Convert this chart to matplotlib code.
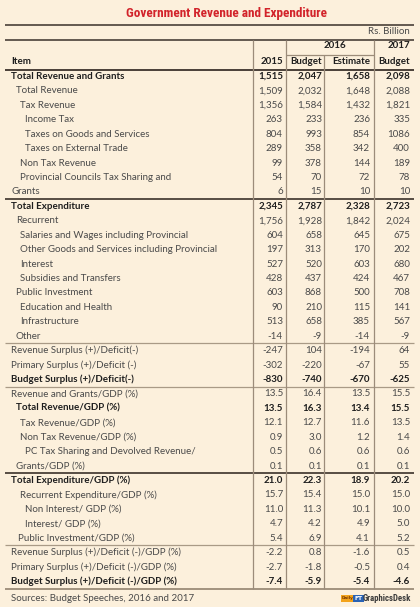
"""
Government Revenue and Expenditure table (Rs. Billion), drawn with matplotlib.
"""

import matplotlib
matplotlib.use("Agg")
import matplotlib.pyplot as plt

# ---- data -------------------------------------------------------------
items = [
    "Total Revenue and Grants", "Total Revenue", "Tax Revenue", "Income Tax",
    "Taxes on Goods and Services", "Taxes on External Trade", "Non Tax Revenue",
    "Provincial Councils Tax Sharing and", "Grants",
    "Total Expenditure", "Recurrent", "Salaries and Wages including Provincial",
    "Other Goods and Services including Provincial", "Interest",
    "Subsidies and Transfers", "Public Investment", "Education and Health",
    "Infrastructure", "Other",
    "Revenue Surplus (+)/Deficit(-)", "Primary Surplus (+)/Deficit (-)",
    "Budget Surplus (+)/Deficit(-)",
    "Revenue and Grants/GDP (%)", "Total Revenue/GDP (%)", "Tax Revenue/GDP (%)",
    "Non Tax Revenue/GDP (%)", "PC Tax Sharing and Devolved Revenue/",
    "Grants/GDP (%)",
    "Total Expenditure/GDP (%)", "Recurrent Expenditure/GDP (%)",
    "Non Interest/ GDP (%)", "Interest/ GDP (%)", "Public Investment/GDP (%)",
    "Revenue Surplus (+)/Deficit (-)/GDP (%)",
    "Primary Surplus (+)/Deficit (-)/GDP (%)",
    "Budget Surplus (+)/Deficit (-)/GDP (%)",
]

indent = [0, 1, 2, 3, 3, 3, 2, 2, 0,
          0, 1, 2, 2, 2, 2, 1, 2, 2, 1,
          0, 0, 0,
          0, 1, 2, 2, 3, 1,
          0, 2, 3, 3, 1.5,
          0, 0, 0]

bold_rows = {0, 9, 21, 23, 28, 35}

y2015 = ["1,515", "1,509", "1,356", "263", "804", "289", "99", "54", "6",
         "2,345", "1,756", "604", "197", "527", "428", "603", "90", "513", "-14",
         "-247", "-302", "-830",
         "13.5", "13.5", "12.1", "0.9", "0.5", "0.1",
         "21.0", "15.7", "11.0", "4.7", "5.4",
         "-2.2", "-2.7", "-7.4"]
y2016_budget = ["2,047", "2,032", "1,584", "233", "993", "358", "378", "70", "15",
                "2,787", "1,928", "658", "313", "520", "437", "868", "210", "658", "-9",
                "104", "-220", "-740",
                "16.4", "16.3", "12.7", "3.0", "0.6", "0.1",
                "22.3", "15.4", "11.3", "4.2", "6.9",
                "0.8", "-1.8", "-5.9"]
y2016_estimate = ["1,658", "1,648", "1,432", "236", "854", "342", "144", "72", "10",
                  "2,328", "1,842", "645", "170", "603", "424", "500", "115", "385", "-14",
                  "-194", "-67", "-670",
                  "13.5", "13.4", "11.6", "1.2", "0.6", "0.1",
                  "18.9", "15.0", "10.1", "4.9", "4.1",
                  "-1.6", "-0.5", "-5.4"]
y2017_budget = ["2,098", "2,088", "1,821", "335", "1086", "400", "189", "78", "10",
                "2,723", "2,024", "675", "202", "680", "467", "708", "141", "567", "-9",
                "64", "55", "-625",
                "15.5", "15.5", "13.5", "1.4", "0.6", "0.1",
                "20.2", "15.0", "10.0", "5.0", "5.2",
                "0.5", "0.4", "-4.6"]

columns = [y2015, y2016_budget, y2016_estimate, y2017_budget]

# ---- layout / style ---------------------------------------------------
BG = "#fcf0dc"
TXT = "#4a4a4a"
TXT_BOLD = "#1e1e1e"
RED = "#d2232a"
DARK_LINE = "#4a4038"
LIGHT_LINE = "#a99a86"
VLINE = "#9c8c7a"
FONT = "Lato"
FS = 7.0
NARROW = ["Liberation Sans Narrow", "Roboto Condensed", "DejaVu Sans"]

col_right = [283, 322, 370, 410]
vlines = [253, 285.5, 374]
row_y0, row_step = 76.5, 14.43
line_x0, line_x1 = 5, 414

# separators after row index: (row, colour, width)
separators = [(8, DARK_LINE, 1.3), (18, LIGHT_LINE, 0.9), (21, LIGHT_LINE, 0.9),
              (27, DARK_LINE, 1.3), (32, LIGHT_LINE, 0.9), (35, "#8a7a66", 1.1)]

fig = plt.figure(figsize=(4.2, 6.07), dpi=100, facecolor=BG)
ax = fig.add_axes([0, 0, 1, 1])
ax.set_xlim(0, 420)
ax.set_ylim(607, 0)
ax.axis("off")
ax.set_facecolor(BG)

# title and unit
ax.text(226, 13, "Government Revenue and Expenditure", ha="center", va="center",
        fontsize=9.5, fontweight="bold", color=RED, family=NARROW,
        fontstretch="condensed")
ax.hlines([24.5, 39.5], line_x0, line_x1, color=DARK_LINE, lw=1.2)
ax.text(410, 32, "Rs. Billion", ha="right", va="center", fontsize=FS,
        color=TXT, family=FONT)

# header
hdr = dict(va="center", fontsize=FS, fontweight="bold", color=TXT_BOLD, family=FONT)
ax.text(11, 61.5, "Item", ha="left", **hdr)
ax.text(col_right[0], 61.5, "2015", ha="right", **hdr)
ax.text(col_right[1], 61.5, "Budget", ha="right", **hdr)
ax.text(col_right[2], 61.5, "Estimate", ha="right", **hdr)
ax.text(col_right[3], 61.5, "Budget", ha="right", **hdr)
ax.text(335, 46, "2016", ha="center", **hdr)
ax.text(col_right[3], 46, "2017", ha="right", **hdr)
ax.hlines(55, vlines[1], vlines[2], color=VLINE, lw=0.9)
ax.hlines(69.5, line_x0, line_x1, color=DARK_LINE, lw=1.4)

# body rows
for i, label in enumerate(items):
    y = row_y0 + i * row_step
    is_bold = i in bold_rows
    kw = dict(va="center", fontsize=FS, family=FONT,
              fontweight="bold" if is_bold else "normal",
              color=TXT_BOLD if is_bold else TXT)
    ax.text(11 + indent[i] * 4.7, y, label, ha="left", **kw)
    for col, xr in zip(columns, col_right):
        ax.text(xr, y, col[i], ha="right", **kw)

for row, c, w in separators:
    ax.hlines(row_y0 + (row + 0.5) * row_step, line_x0, line_x1, color=c, lw=w)

# vertical column rules
bottom = row_y0 + 35.5 * row_step
ax.vlines(vlines, 40, bottom, color=VLINE, lw=0.9)
ax.vlines(324, 55, bottom, color=VLINE, lw=0.9)

# footer
ax.text(11, 598.5, "Sources: Budget Speeches, 2016 and 2017", ha="left", va="center",
        fontsize=FS, color=TXT, family=FONT)
ax.text(348, 598.5, "Daily", ha="center", va="center", fontsize=3.0, color="#7a3a00",
        fontweight="bold", bbox=dict(boxstyle="square,pad=0.35", fc="#f3a31b", ec="none"))
ax.text(358.5, 598.5, "FT", ha="center", va="center", fontsize=4.2, color="white",
        fontweight="bold", bbox=dict(boxstyle="square,pad=0.2", fc="#2a63b4", ec="none"))
ax.text(411, 598.5, "GraphicsDesk", ha="right", va="center", fontsize=6.3,
        color="#3a3a3a", fontweight="bold", family=NARROW, fontstretch="condensed")

fig.savefig("out.png", dpi=100, facecolor=BG)
